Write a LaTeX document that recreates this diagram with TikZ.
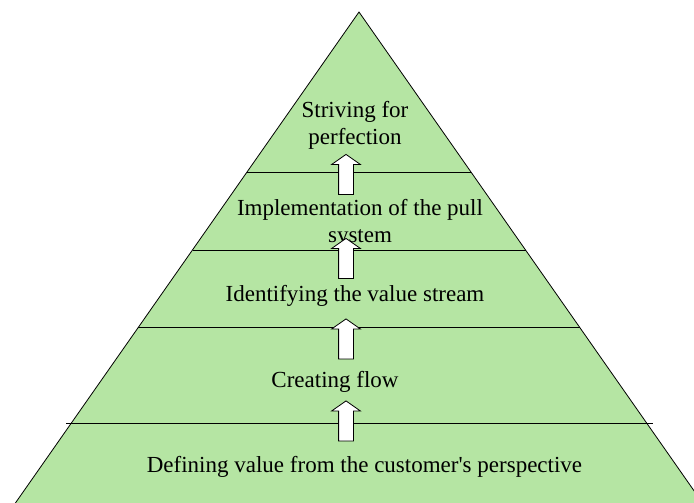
\documentclass[tikz,border=0pt]{standalone}
\usepackage{fontspec}
\setmainfont{Liberation Serif}
\usetikzlibrary{calc,shapes.arrows}
\definecolor{levelgreen}{RGB}{181,229,163}

\begin{document}
\begin{tikzpicture}[x=1pt,y=-1pt]

    \useasboundingbox (0,0) rectangle (694,503);
    \clip (0,0) rectangle (694,503);

    % pyramid outline, base runs off the page
    \coordinate (top) at (359,12);
    \coordinate (baseL) at (7,515);
    \coordinate (baseR) at (711,515);
    \draw[fill=levelgreen, line width=0.8pt] (top) -- (baseL) -- (baseR) -- cycle;

    % level borders, t = how far down the sides
    \foreach \t/\name in {0.318/one, 0.473/two, 0.628/three, 0.817/four} {
        \coordinate (\name-L) at ($(top)!\t!(baseL)$);
        \coordinate (\name-R) at ($(top)!\t!(baseR)$);
    }
    \begin{scope}[line width=0.8pt]
    \draw (one-L) -- (one-R);
    \draw (two-L) -- (two-R);
    \draw (three-L) -- (three-R);
    \draw ([xshift=-5pt]four-L) -- ([xshift=6pt]four-R);
    \end{scope}

    % level texts
    \begin{scope}[every node/.style={align=center, inner sep=0pt,
                  font=\fontsize{23}{27}\selectfont}]
    \node (striving) at (355,125) {Striving for\\perfection};
    \node (pull) at (360,223.5) {Implementation of the pull\\system};
    \node (stream) at (355,296) {Identifying the value stream};
    \node (flow) at (335,382) {Creating flow};
    \node (value) at (364.5,467) {Defining value from the customer\textquotesingle s perspective};
    \end{scope}

    % white block arrows between the levels
    \begin{scope}[every node/.style={single arrow, draw, fill=white, line width=0.8pt,
                  shape border rotate=90, inner sep=7pt, minimum height=40pt,
                  single arrow head extend=7pt, single arrow tip angle=110}]
    \node (up1) at (346,177) {};
    \node (up2) at (346,261) {};
    \node (up3) at (346,341.5) {};
    \node (up4) at (346,423.5) {};
    \end{scope}

\end{tikzpicture}
\end{document}
